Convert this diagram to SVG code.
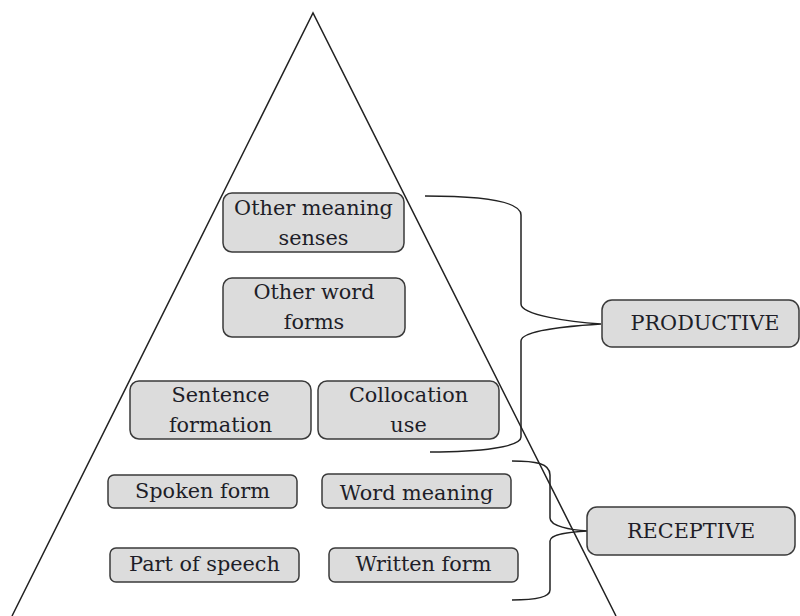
<svg xmlns="http://www.w3.org/2000/svg" width="800" height="616" viewBox="0 0 800 616">
<style>
.box{fill:#dcdcdc;stroke:#3a3a3a;stroke-width:1.5}
.t{font-family:"DejaVu Serif",serif;font-size:20.8px;fill:#1e1e28;text-anchor:middle}
.ln{fill:none;stroke:#222;stroke-width:1.5}
</style>
<rect width="800" height="616" fill="#fff"/>
<g id="pyramid">
<polyline class="ln" points="12,616 313,13 616,616" stroke-width="1.3"/>
</g>
<g id="connectors">
<path class="ln" d="M425,196 C480,196 521,201 521,215 L521,304 C521,315 570,322 601,324 C570,326 521,330 521,341 L521,437 C521,447 480,452 430,452"/>
<path class="ln" d="M512,461 C535,461 550,463 550,475 L550,518 C550,526 570,530 588,531 C570,532 550,534 550,541 L550,590 C550,597 535,600 512,600"/>
</g>
<g id="n-other-meaning">
<rect class="box" x="223" y="193" width="181" height="59" rx="9"/>
<text class="t" x="313.5" y="215">Other meaning</text>
<text class="t" x="313.5" y="245">senses</text>
</g>
<g id="n-other-word">
<rect class="box" x="223" y="278" width="182" height="59" rx="9"/>
<text class="t" x="314" y="299">Other word</text>
<text class="t" x="314" y="329">forms</text>
</g>
<g id="n-sentence">
<rect class="box" x="130" y="381" width="181" height="58" rx="9"/>
<text class="t" x="220.5" y="402">Sentence</text>
<text class="t" x="220.5" y="432">formation</text>
</g>
<g id="n-collocation">
<rect class="box" x="318" y="381" width="181" height="58" rx="9"/>
<text class="t" x="408.5" y="402">Collocation</text>
<text class="t" x="408.5" y="432">use</text>
</g>
<g id="n-spoken">
<rect class="box" x="108" y="475" width="189" height="33" rx="6"/>
<text class="t" x="202.5" y="498">Spoken form</text>
</g>
<g id="n-word-meaning">
<rect class="box" x="322" y="474" width="189" height="34" rx="6"/>
<text class="t" x="416.5" y="500">Word meaning</text>
</g>
<g id="n-part">
<rect class="box" x="110" y="548" width="189" height="34" rx="6"/>
<text class="t" x="204.5" y="571">Part of speech</text>
</g>
<g id="n-written">
<rect class="box" x="329" y="548" width="189" height="34" rx="6"/>
<text class="t" x="423.5" y="571">Written form</text>
</g>
<g id="n-productive">
<rect class="box" x="602" y="300" width="197" height="47" rx="10"/>
<text class="t" x="705" y="330">PRODUCTIVE</text>
</g>
<g id="n-receptive">
<rect class="box" x="587" y="507" width="208" height="48" rx="10"/>
<text class="t" x="691" y="538">RECEPTIVE</text>
</g>
</svg>
